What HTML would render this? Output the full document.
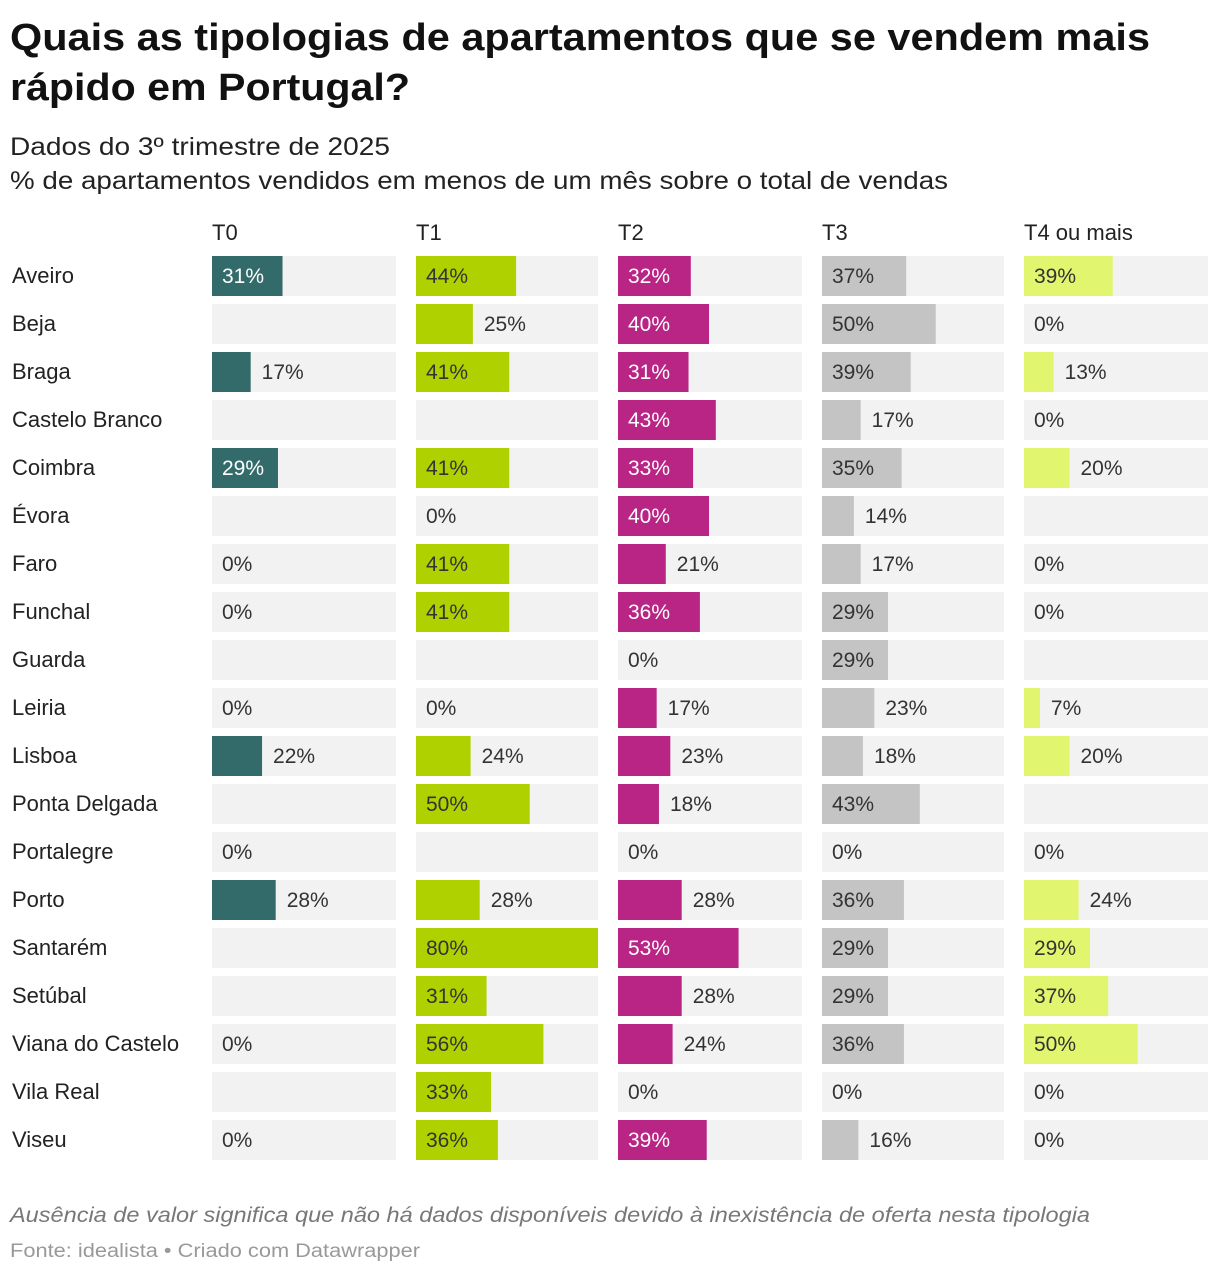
<!DOCTYPE html>
<html><head><meta charset="utf-8"><style>
body{margin:0;background:#fff;width:1220px;height:1274px;overflow:hidden;font-family:"Liberation Sans",sans-serif}
svg text{font-family:"Liberation Sans",sans-serif}
</style></head><body>
<svg id="c" width="1220" height="1274" xmlns="http://www.w3.org/2000/svg">
<text x="10" y="50" font-size="38" font-weight="bold" fill="#111" textLength="1140" lengthAdjust="spacingAndGlyphs">Quais as tipologias de apartamentos que se vendem mais</text>
<text x="10" y="100" font-size="38" font-weight="bold" fill="#111" textLength="400" lengthAdjust="spacingAndGlyphs">rápido em Portugal?</text>
<text x="10" y="155" font-size="25" fill="#222" textLength="380" lengthAdjust="spacingAndGlyphs">Dados do 3º trimestre de 2025</text>
<text x="10" y="189" font-size="25" fill="#222" textLength="938" lengthAdjust="spacingAndGlyphs">% de apartamentos vendidos em menos de um mês sobre o total de vendas</text>
<g id="plot"></g>
<text x="10" y="1222" font-size="21" font-style="italic" fill="#777" textLength="1080" lengthAdjust="spacingAndGlyphs">Ausência de valor significa que não há dados disponíveis devido à inexistência de oferta nesta tipologia</text>
<text x="10" y="1257" font-size="19" fill="#999" textLength="410" lengthAdjust="spacingAndGlyphs">Fonte: idealista • Criado com Datawrapper</text>
</svg>
<script>
const cities=["Aveiro","Beja","Braga","Castelo Branco","Coimbra","Évora","Faro","Funchal","Guarda","Leiria","Lisboa","Ponta Delgada","Portalegre","Porto","Santarém","Setúbal","Viana do Castelo","Vila Real","Viseu"];
const columns=["T0","T1","T2","T3","T4 ou mais"];
const t0=[31,null,17,null,29,null,0,0,null,0,22,null,0,28,null,null,0,null,0];
const t1=[44,25,41,null,41,0,41,41,null,0,24,50,null,28,80,31,56,33,36];
const t2=[32,40,31,43,33,40,21,36,0,17,23,18,0,28,53,28,24,0,39];
const t3=[37,50,39,17,35,14,17,29,29,23,18,43,0,36,29,29,36,0,16];
const t4=[39,0,13,0,20,null,0,0,null,7,20,null,0,24,29,37,50,0,0];
const series=[t0,t1,t2,t3,t4];
const colors=["#336b6b","#b0d100","#b82584","#c4c4c4","#e2f56f"];
const inText=["#fff","#333","#fff","#333","#333"];
const colX=[212,416,618,822,1024],colW=[184,182,184,182,184];
const top0=256,pitch=48,rowH=40,pxPer=2.275;
const NS="http://www.w3.org/2000/svg";
const g=document.getElementById('plot');
function mk(tag,attrs,txt){const e=document.createElementNS(NS,tag);for(const k in attrs)e.setAttribute(k,attrs[k]);if(txt!=null)e.textContent=txt;g.appendChild(e);return e;}
const yOf=i=>top0+i*pitch;
const xScale=v=>v*pxPer;
columns.forEach((c,j)=>{
  const t=mk('text',{x:colX[j],y:240,'font-size':22,fill:'#222'},c);
  
  
});
cities.forEach((c,i)=>{
  const t=mk('text',{x:12,y:yOf(i)+27,'font-size':22,fill:'#222'},c);
  
  
  series.forEach((s,j)=>{
    const bg=mk('rect',{x:colX[j],y:yOf(i),width:colW[j],height:rowH,fill:'#f2f2f2'});
    
    
    const v=s[i];
    if(v==null)return;
    const w=Math.min(xScale(v),colW[j]);
    if(v>0){
      const b=mk('rect',{x:colX[j],y:yOf(i),width:w,height:rowH,fill:colors[j]});
      
      
    }
    const inside=v>=29;
    const lx=inside||v===0?colX[j]+10:colX[j]+w+11;
    const lt=mk('text',{x:lx,y:yOf(i)+27,'font-size':21,fill:inside?inText[j]:'#333'},v+'%');
    
    
  });
});
</script>
</body></html>
